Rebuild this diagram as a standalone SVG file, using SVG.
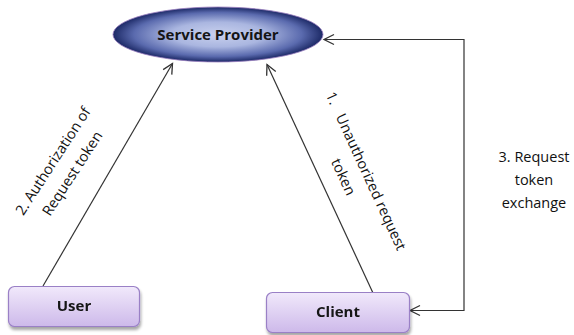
<svg xmlns="http://www.w3.org/2000/svg" width="574" height="335" viewBox="0 0 574 335">
  <style>
    .lbl { font-family: "Open Sans", "Liberation Sans", sans-serif; font-size: 14.5px; fill: #111; text-anchor: middle; }
    .nodetxt { font-family: "Open Sans", "Liberation Sans", sans-serif; font-size: 15px; font-weight: bold; fill: #151515; text-anchor: middle; }
    .conn { fill: none; stroke: #333; stroke-width: 1.2; }
    .box { fill: url(#boxFill); stroke: #9a80c6; stroke-width: 1.2; }
  </style>
  <defs>
    <radialGradient id="ovalFill" cx="0.5" cy="0.5" r="0.5">
      <stop offset="0" stop-color="#c9d1ee"/>
      <stop offset="0.45" stop-color="#aab6e0"/>
      <stop offset="0.8" stop-color="#5a6aae"/>
      <stop offset="1" stop-color="#1c2966"/>
    </radialGradient>
    <linearGradient id="boxFill" x1="0" y1="0" x2="0" y2="1">
      <stop offset="0" stop-color="#f1e9fb"/>
      <stop offset="1" stop-color="#cdb9ea"/>
    </linearGradient>
    <filter id="shadow" x="-10%" y="-20%" width="130%" height="160%">
      <feGaussianBlur in="SourceAlpha" stdDeviation="1.5"/>
      <feOffset dx="1" dy="2.5" result="b"/>
      <feComponentTransfer><feFuncA type="linear" slope="0.35"/></feComponentTransfer>
      <feMerge><feMergeNode/><feMergeNode in="SourceGraphic"/></feMerge>
    </filter>
    <marker id="openArrow" markerUnits="userSpaceOnUse" markerWidth="14" markerHeight="14" refX="11" refY="6" orient="auto-start-reverse">
      <path d="M1,1 L11,6 L1,11" fill="none" stroke="#333" stroke-width="1.3"/>
    </marker>
  </defs>

  <!-- connectors -->
  <g id="connectors">
    <line class="conn" x1="43" y1="286" x2="172.5" y2="63.5" marker-end="url(#openArrow)"/>
    <line class="conn" x1="373" y1="293" x2="267" y2="64.5" marker-end="url(#openArrow)"/>
    <polyline class="conn" stroke="#444" points="324,39.5 464,39.5 464,310.5 410,310.5" marker-start="url(#openArrow)" marker-end="url(#openArrow)"/>
  </g>

  <!-- connector labels -->
  <g id="labels">
    <g transform="translate(53,161) rotate(-57)">
      <text class="lbl" x="0" y="5">2. Authorization of</text>
      <text class="lbl" x="0" y="28">Request token</text>
    </g>
    <g transform="translate(366,171) rotate(65.3)">
      <text class="lbl" x="0" y="5">1.<tspan dx="12">Unauthorized request</tspan></text>
      <text class="lbl" x="-4" y="28">token</text>
    </g>
    <text class="lbl" x="534" y="162">3. Request</text>
    <text class="lbl" x="534" y="185">token</text>
    <text class="lbl" x="534" y="208">exchange</text>
  </g>

  <!-- nodes -->
  <g id="service-provider">
    <ellipse cx="218" cy="34.5" rx="105" ry="27.5" fill="url(#ovalFill)" stroke="#9a7fc0" stroke-width="0.8"/>
    <text class="nodetxt" x="218" y="40">Service Provider</text>
  </g>
  <g id="user" filter="url(#shadow)">
    <rect class="box" x="8.5" y="286.5" width="131" height="40" rx="6"/>
    <text class="nodetxt" x="74" y="311">User</text>
  </g>
  <g id="client" filter="url(#shadow)">
    <rect class="box" x="266.5" y="292.5" width="143" height="40" rx="6"/>
    <text class="nodetxt" x="338" y="317">Client</text>
  </g>
</svg>
